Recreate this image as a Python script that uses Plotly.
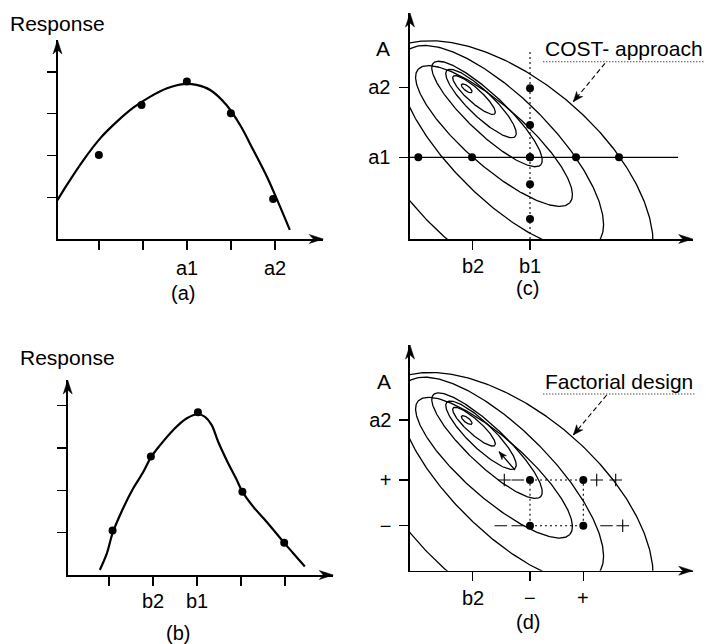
import numpy as np
import plotly.graph_objects as go

W, H = 706, 644
FONT = "Liberation Sans, Arial, Helvetica, sans-serif"

# ---------------- data ----------------
# (a) response against factor A
a_ticks_x = [1, 2, 3, 4, 5]
a_ticklabels = ["", "", "a1", "", "a2"]
a_ticks_y = [1, 2, 3, 4]
a_pts_x = [1.00, 1.97, 3.00, 4.00, 4.96]
a_pts_y = [2.01, 3.21, 3.77, 3.01, 0.96]
a_fit_x = [0.06, 0.27, 0.65, 1.03, 1.41, 1.79, 2.17, 2.55, 2.92, 3.22, 3.53, 3.90, 4.21, 4.51, 4.82, 5.12, 5.34]
a_fit_y = [0.93, 1.29, 1.89, 2.41, 2.81, 3.15, 3.41, 3.61, 3.71, 3.69, 3.57, 3.21, 2.73, 2.13, 1.49, 0.77, 0.22]

# (b) response against factor B
b_ticks_x = [1, 2, 3, 4, 5]
b_ticklabels = ["", "b2", "b1", "", ""]
b_ticks_y = [1, 2, 3, 4]
b_pts_x = [1.08, 1.95, 3.02, 4.03, 4.98]
b_pts_y = [1.05, 2.80, 3.85, 1.97, 0.76]
b_fit_x = [0.79, 0.95, 1.08, 1.32, 1.55, 1.78, 1.95, 2.16, 2.46, 2.76, 3.02, 3.18, 3.33, 3.48,
           3.67, 3.90, 4.03, 4.28, 4.58, 4.98, 5.19, 5.45]
b_fit_y = [0.12, 0.51, 0.99, 1.58, 2.05, 2.44, 2.78, 3.07, 3.43, 3.70, 3.80, 3.74, 3.55, 3.15,
           2.72, 2.25, 1.97, 1.61, 1.26, 0.76, 0.51, 0.20]

# (c),(d) response-surface contours (B horizontal, A vertical)
cont_cx = [5.67, 6.40, 7.10, 7.70, 8.40, 9.15]
cont_cy = [15.07, 14.40, 13.55, 12.50, 10.30, 9.15]
cont_a = [0.65, 2.80, 4.75, 7.40, 10.10, 13.52]
cont_b = [0.25, 0.70, 1.25, 1.90, 3.00, 5.05]
cont_tilt = [-38, -42, -44, -43.5, -41.3, -45]
outer_x = [0.0, 6.33, 11.33, 16.33, 20.83, 24.30, 3.50, 0.0]
outer_y = [19.83, 18.90, 16.73, 13.73, 8.13, 0.0, 0.0, 3.90]

c_ticks_x = [6.27, 12.0]
c_ticklabels_x = ["b2", "b1"]
c_ticks_y = [8.17, 15.17]
c_ticklabels_y = ["a1", "a2"]
cost_row_x = [0.83, 6.2, 12.0, 16.6, 20.9]     # runs at A = a1
cost_col_y = [2.0, 5.47, 8.17, 11.4, 15.07]    # runs at B = b1
a1_level = 8.17
b1_level = 12.0

d_ticks_x = [6.27, 12.0, 17.33]
d_ticklabels_x = ["b2", "\u2212", "+"]
d_ticks_y = [4.5, 9.07, 15.07]
d_ticklabels_y = ["\u2212", "+", "a2"]
fact_x = [12.0, 17.33]
fact_y = [4.5, 9.07]
upper_marks_x = [9.43, 10.78, 18.67, 20.57]
upper_marks = ["+", "-", "+", "+"]
lower_marks_x = [9.08, 10.78, 19.65, 21.27]
lower_marks = ["-", "-", "-", "+"]
steep_from = (10.5, 10.07)
steep_to = (8.9, 11.9)

# ---------------- panel geometry (pixels) ----------------
P = {
    "a": dict(x0=57.5, x1=323.3, y0=239.0, y1=40.0, xr=[0.06, 0.06 + (323.3 - 57.5) / 44.0], yr=[0, (239 - 40) / 41.75], ax="x", ay="y", lab=29.0),
    "b": dict(x0=67.7, x1=333.3, y0=575.0, y1=380.0, xr=[0.06, 0.06 + (333.3 - 67.7) / 44.0], yr=[0, (575 - 380) / 42.3], ax="x2", ay="y2", lab=26.0),
    "c": dict(x0=410.0, x1=692.7, y0=239.0, y1=13.0, xr=[0, 28.27], yr=[0, 22.6], ax="x3", ay="y3", lab=26.5),
    "d": dict(x0=410.0, x1=692.7, y0=570.7, y1=345.0, xr=[0, 28.27], yr=[0, 22.57], ax="x4", ay="y4", lab=27.5),
}


def to_px(p, xd, yd):
    g = P[p]
    px = g["x0"] + (xd - g["xr"][0]) / (g["xr"][1] - g["xr"][0]) * (g["x1"] - g["x0"])
    py = g["y0"] - (yd - g["yr"][0]) / (g["yr"][1] - g["yr"][0]) * (g["y0"] - g["y1"])
    return px, py


def paper(px, py):
    return px / W, 1 - py / H


def head_path(dx, dy, L, Wd, notch=0.72):
    n = np.hypot(dx, dy)
    ux, uy = dx / n, dy / n
    qx, qy = -uy, ux
    p1 = (-L * ux + Wd / 2 * qx, -L * uy + Wd / 2 * qy)
    p2 = (-notch * L * ux, -notch * L * uy)
    p3 = (-L * ux - Wd / 2 * qx, -L * uy - Wd / 2 * qy)
    return "M0,0L%.2f,%.2fL%.2f,%.2fL%.2f,%.2fZ" % (p1 + p2 + p3)


def ellipse(cx, cy, a, b, tilt):
    t = np.linspace(0, 2 * np.pi, 361)
    th = np.radians(tilt)
    u, v = a * np.cos(t), b * np.sin(t)
    return cx + u * np.cos(th) - v * np.sin(th), cy + u * np.sin(th) + v * np.cos(th)


def fit_conic(xs, ys):
    x = np.asarray(xs, float)
    y = np.asarray(ys, float)
    D = np.column_stack([x * x, x * y, y * y, x, y, np.ones_like(x)])
    _, _, vt = np.linalg.svd(D)
    A, B, C, Dd, E, F = vt[-1]
    M = np.array([[A, B / 2], [B / 2, C]])
    c = np.linalg.solve(2 * M, -np.array([Dd, E]))
    Fc = F + 0.5 * (Dd * c[0] + E * c[1])
    w, V = np.linalg.eigh(M)
    r1, r2 = np.sqrt(abs(Fc / w[0])), np.sqrt(abs(Fc / w[1]))
    t = np.linspace(0, 2 * np.pi, 481)
    pts = c[:, None] + V[:, 0:1] * r1 * np.cos(t) + V[:, 1:2] * r2 * np.sin(t)
    return pts[0], pts[1]


fig = go.Figure()
BLACK = "black"

# ---- (a) ----
fig.add_trace(go.Scatter(x=a_fit_x, y=a_fit_y, mode="lines", line=dict(color=BLACK, width=2.2, shape="spline", smoothing=1.0),
                         xaxis="x", yaxis="y", hoverinfo="skip"))
fig.add_trace(go.Scatter(x=a_pts_x, y=a_pts_y, mode="markers", marker=dict(color=BLACK, size=8), xaxis="x", yaxis="y"))

# ---- (b) ----
fig.add_trace(go.Scatter(x=b_fit_x, y=b_fit_y, mode="lines", line=dict(color=BLACK, width=2.2, shape="spline", smoothing=1.0),
                         xaxis="x2", yaxis="y2", hoverinfo="skip"))
fig.add_trace(go.Scatter(x=b_pts_x, y=b_pts_y, mode="markers", marker=dict(color=BLACK, size=8), xaxis="x2", yaxis="y2"))

# ---- contours in (c) and (d) ----
ox, oy = fit_conic(outer_x, outer_y)
for xa, ya in (("x3", "y3"), ("x4", "y4")):
    for cx, cy, a, b, tl in zip(cont_cx, cont_cy, cont_a, cont_b, cont_tilt):
        ex, ey = ellipse(cx, cy, a, b, tl)
        fig.add_trace(go.Scatter(x=ex, y=ey, mode="lines", line=dict(color=BLACK, width=1.3),
                                 xaxis=xa, yaxis=ya, hoverinfo="skip"))
    fig.add_trace(go.Scatter(x=ox, y=oy, mode="lines", line=dict(color=BLACK, width=1.3),
                             xaxis=xa, yaxis=ya, hoverinfo="skip"))

# ---- (c) COST runs ----
fig.add_trace(go.Scatter(x=[0, 26.8], y=[a1_level, a1_level], mode="lines", line=dict(color=BLACK, width=1.2),
                         xaxis="x3", yaxis="y3"))
fig.add_trace(go.Scatter(x=[b1_level, b1_level], y=[0, 18.9], mode="lines", line=dict(color=BLACK, width=1.1, dash="2px,3px"),
                         xaxis="x3", yaxis="y3"))
fig.add_trace(go.Scatter(x=cost_row_x, y=[a1_level] * len(cost_row_x), mode="markers", marker=dict(color=BLACK, size=8),
                         xaxis="x3", yaxis="y3"))
fig.add_trace(go.Scatter(x=[b1_level] * len(cost_col_y), y=cost_col_y, mode="markers", marker=dict(color=BLACK, size=8),
                         xaxis="x3", yaxis="y3"))

# ---- (d) factorial design ----
for yv in fact_y:
    fig.add_trace(go.Scatter(x=fact_x, y=[yv, yv], mode="lines", line=dict(color=BLACK, width=1.1, dash="2px,3px"),
                             xaxis="x4", yaxis="y4"))
for xv in fact_x:
    fig.add_trace(go.Scatter(x=[xv, xv], y=fact_y, mode="lines", line=dict(color=BLACK, width=1.1, dash="2px,3px"),
                             xaxis="x4", yaxis="y4"))
sym = {"+": "cross-thin", "-": "line-ew"}
for xs, ms, yv in ((upper_marks_x, upper_marks, fact_y[1]), (lower_marks_x, lower_marks, fact_y[0])):
    fig.add_trace(go.Scatter(x=xs, y=[yv] * len(xs), mode="markers",
                             marker=dict(symbol=[sym[m] for m in ms], size=9, color=BLACK,
                                         line=dict(color=BLACK, width=1.1)),
                             xaxis="x4", yaxis="y4"))
fig.add_trace(go.Scatter(x=[fx for fx in fact_x for _ in fact_y], y=[fy for _ in fact_x for fy in fact_y], mode="markers",
                         marker=dict(color=BLACK, size=8), xaxis="x4", yaxis="y4"))
fig.add_trace(go.Scatter(x=[steep_from[0], steep_to[0]], y=[steep_from[1], steep_to[1]], mode="lines",
                         line=dict(color=BLACK, width=1.2), xaxis="x4", yaxis="y4"))

shapes = []
annotations = []


def add_head(p, xd, yd, dx, dy, L=14, Wd=9):
    px, py = to_px(p, xd, yd)
    xa, ya = paper(px, py)
    shapes.append(dict(type="path", xref="paper", yref="paper", xsizemode="pixel", ysizemode="pixel",
                       xanchor=xa, yanchor=ya, path=head_path(dx, dy, L, Wd), fillcolor=BLACK,
                       line=dict(color=BLACK, width=0.5), layer="above"))


# axis arrowheads
for p in "abcd":
    g = P[p]
    add_head(p, g["xr"][0], g["yr"][1], 0, 1)
    add_head(p, g["xr"][1], g["yr"][0], 1, 0)

# small arrow towards the optimum in (d)
add_head("d", steep_to[0], steep_to[1], steep_to[0] - steep_from[0], steep_to[1] - steep_from[1], L=8, Wd=6)


def pointer(p, start, end, ul_x0, ul_x1, ul_y):
    sx, sy = to_px(p, *start)
    ex, ey = to_px(p, *end)
    a0, b0 = paper(sx, sy)
    a1, b1 = paper(ex, ey)
    shapes.append(dict(type="line", xref="paper", yref="paper", x0=a0, y0=b0, x1=a1, y1=b1,
                       line=dict(color=BLACK, width=1.1, dash="5px,3px")))
    add_head(p, end[0], end[1], end[0] - start[0], end[1] - start[1], L=10, Wd=8)
    u0, uy = paper(ul_x0, ul_y)
    u1, _ = paper(ul_x1, ul_y)
    shapes.append(dict(type="line", xref="paper", yref="paper", x0=u0, y0=uy, x1=u1, y1=uy,
                       line=dict(color=BLACK, width=1.1, dash="1px,2px")))


pointer("c", (19.5, 17.57), (16.33, 13.73), 543.3, 703.3, 61.7)
pointer("d", (19.67, 17.57), (16.33, 13.57), 543.3, 696.0, 394.0)


def text(s, px, py, size, xanchor="center"):
    xa, ya = paper(px, py)
    annotations.append(dict(text=s, x=xa, y=ya, xref="paper", yref="paper", showarrow=False,
                            xanchor=xanchor, yanchor="middle", font=dict(family=FONT, size=size, color=BLACK)))


# x tick labels, placed under each tick
for p, tv, tt in (("a", a_ticks_x, a_ticklabels), ("b", b_ticks_x, b_ticklabels),
                  ("c", c_ticks_x, c_ticklabels_x), ("d", d_ticks_x, d_ticklabels_x)):
    for v, s in zip(tv, tt):
        if s:
            px, py = to_px(p, v, P[p]["yr"][0])
            text(s, px, py + P[p]["lab"], 20)

text("Response", 8.3, 23.7, 21, "left")
text("Response", 18.3, 357.8, 21, "left")
text("(a)", 182.5, 292.7, 20)
text("(b)", 178.0, 632.5, 20)
text("(c)", 527.5, 288.0, 20)
text("(d)", 528.0, 622.0, 20)
text("A", 383.0, 48.3, 21)
text("A", 383.7, 381.7, 21)
text("COST- approach", 543.3, 48.5, 21, "left")
text("Factorial design", 543.3, 381.3, 21, "left")


def axes(p, tx, ty, tty, ystand):
    g = P[p]
    xdom = [g["x0"] / W, g["x1"] / W]
    ydom = [1 - g["y0"] / H, 1 - g["y1"] / H]
    common = dict(showgrid=False, zeroline=False, showline=True, linecolor=BLACK, linewidth=1.6,
                  ticks="outside", ticklen=9, tickwidth=1.3, tickcolor=BLACK, fixedrange=True,
                  tickfont=dict(family=FONT, size=20, color=BLACK))
    xa = dict(common, domain=xdom, range=g["xr"], anchor=g["ay"], tickmode="array", tickvals=tx,
              showticklabels=False)
    ya = dict(common, domain=ydom, range=g["yr"], anchor=g["ax"], tickmode="array", tickvals=ty,
              ticktext=tty if tty else [""] * len(ty), showticklabels=bool(tty), ticklabelstandoff=ystand)
    return xa, ya


lay = {}
for p, key, args in (("a", "", (a_ticks_x, a_ticks_y, None, 0)),
                     ("b", "2", (b_ticks_x, b_ticks_y, None, 0)),
                     ("c", "3", (c_ticks_x, c_ticks_y, c_ticklabels_y, 5)),
                     ("d", "4", (d_ticks_x, d_ticks_y, d_ticklabels_y, 4))):
    xa, ya = axes(p, *args)
    lay["xaxis" + key] = xa
    lay["yaxis" + key] = ya

fig.update_layout(width=W, height=H, margin=dict(l=0, r=0, t=0, b=0), autosize=False,
                  paper_bgcolor="white", plot_bgcolor="white", showlegend=False,
                  shapes=shapes, annotations=annotations, **lay)

fig.write_html("out.html", config={"displayModeBar": False, "staticPlot": True},
               post_script="document.body.style.margin='0px';document.body.style.padding='0px';")
